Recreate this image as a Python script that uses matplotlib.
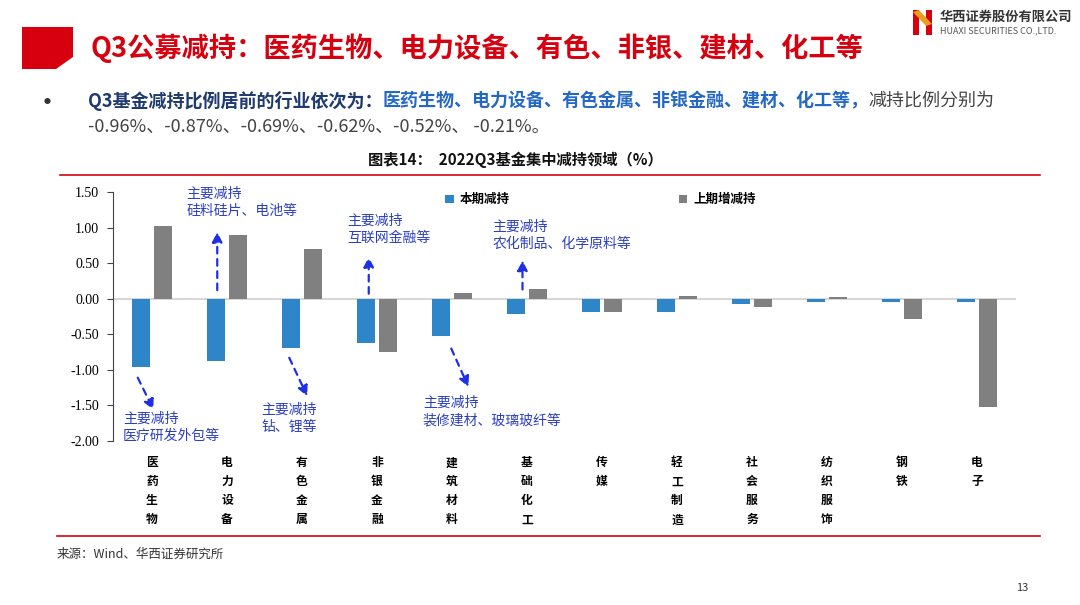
import matplotlib
matplotlib.use("Agg")
import matplotlib.pyplot as plt
from matplotlib.patches import Polygon, Rectangle
import numpy as np

# data
industries = ['医药生物', '电力设备', '有色金属', '非银金融', '建筑材料', '基础化工',
              '传媒', '轻工制造', '社会服务', '纺织服饰', '钢铁', '电子']
current_cut = [-0.96, -0.87, -0.69, -0.62, -0.52, -0.21, -0.19, -0.18, -0.07, -0.05, -0.05, -0.04]
previous_chg = [1.02, 0.89, 0.70, -0.75, 0.08, 0.13, -0.18, 0.04, -0.12, 0.03, -0.29, -1.52]
series_names = ['本期减持', '上期增减持']
y_ticks = [1.5, 1.0, 0.5, 0.0, -0.5, -1.0, -1.5, -2.0]

# callouts: (text, text x, text y, arrow start, arrow end) in data units
notes = [
    ('主要减持\n医疗研发外包等', -0.39, -1.81, (-0.19, -1.11), (0.02, -1.56)),
    ('主要减持\n硅料硅片、电池等', 0.46, 1.36, (0.87, 0.12), (0.87, 0.94)),
    ('主要减持\n钻、锂等', 1.46, -1.68, (1.83, -0.83), (2.07, -1.37)),
    ('主要减持\n互联网金融等', 2.61, 0.97, (2.89, 0.07), (2.89, 0.59)),
    ('主要减持\n装修建材、玻璃玻纤等', 3.61, -1.59, (3.99, -0.70), (4.22, -1.24)),
    ('主要减持\n农化制品、化学原料等', 4.54, 0.89, (4.94, 0.13), (4.94, 0.54)),
]

CJK = ['Noto Sans CJK SC', 'DejaVu Sans']
RED = '#d7000f'
BLUE = '#2e86c8'
GRAY = '#808080'
NOTE = '#2b3fc2'
ARROW = '#1f2fe6'

plt.rcParams['font.family'] = CJK

fig = plt.figure(figsize=(10.8, 6.05), dpi=100)

# header block and title
fig.patches.append(Polygon([[22 / 1080, 1 - 27 / 605], [73 / 1080, 1 - 27 / 605],
                            [73 / 1080, 1 - 57 / 605], [56 / 1080, 1 - 69 / 605],
                            [22 / 1080, 1 - 69 / 605]], closed=True,
                           transform=fig.transFigure, color=RED, lw=0))
fig.text(91 / 1080, 1 - 48 / 605, 'Q3公募减持：医药生物、电力设备、有色、非银、建材、化工等',
         color=RED, fontsize=19.6, fontweight='bold', va='center', ha='left')

# logo
fig.patches.append(Rectangle((913 / 1080, 1 - 35 / 605), 6 / 1080, 25 / 605,
                             transform=fig.transFigure, color=RED, lw=0))
fig.patches.append(Rectangle((926 / 1080, 1 - 35 / 605), 6 / 1080, 25 / 605,
                             transform=fig.transFigure, color=RED, lw=0))
fig.patches.append(Polygon([[913 / 1080, 1 - 12 / 605], [919 / 1080, 1 - 10 / 605],
                            [932 / 1080, 1 - 24 / 605], [926 / 1080, 1 - 26 / 605]],
                           closed=True, transform=fig.transFigure, color='#e8a020', lw=0))
fig.text(940 / 1080, 1 - 17 / 605, '华西证券股份有限公司', fontsize=9.5, fontweight='bold',
         color='#333333', va='center', ha='left')
fig.text(940 / 1080, 1 - 31 / 605, 'HUAXI SECURITIES CO.,LTD.', fontsize=6.5,
         color='#555555', va='center', ha='left')

# bullet text, chained segments
fig.text(47 / 1080, 1 - 102 / 605, '●', fontsize=5, color='#333333', va='center', ha='center')
fig.canvas.draw()
renderer = fig.canvas.get_renderer()
x_px = 88
for seg, col, wt in [('Q3基金减持比例居前的行业依次为：', '#1f3a6e', 'bold'),
                     ('医药生物、电力设备、有色金属、非银金融、建材、化工等，', '#2468c4', 'bold'),
                     ('减持比例分别为', '#444444', 'normal')]:
    t = fig.text(x_px / 1080, 1 - 101 / 605, seg, fontsize=13, color=col,
                 fontweight=wt, va='center', ha='left')
    x_px += t.get_window_extent(renderer).width
fig.text(88 / 1080, 1 - 127 / 605, '-0.96%、-0.87%、-0.69%、-0.62%、-0.52%、 -0.21%。',
         fontsize=13, color='#444444', va='center', ha='left')

# chart title and rules
fig.text(515 / 1080, 1 - 160 / 605, '图表14：  2022Q3基金集中减持领域（%）', fontsize=11,
         fontweight='bold', color='#111111', va='center', ha='center')
fig.add_artist(plt.Line2D([60 / 1080, 1040 / 1080], [1 - 175 / 605, 1 - 175 / 605],
                          color=RED, lw=1.2, transform=fig.transFigure))
fig.add_artist(plt.Line2D([57 / 1080, 1040 / 1080], [1 - 536 / 605, 1 - 536 / 605],
                          color=RED, lw=1.2, transform=fig.transFigure))
fig.text(57 / 1080, 1 - 554 / 605, '来源：Wind、华西证券研究所', fontsize=9, style='italic',
         color='#333333', va='center', ha='left')
fig.text(1022 / 1080, 1 - 588 / 605, '13', fontsize=8, color='#333333', va='center', ha='center')

# bar chart
ax = fig.add_axes([113 / 1080, 1 - 441 / 605, 903 / 1080, 249 / 605])
x = np.arange(len(industries))
w = 0.24
ax.bar(x - 0.145, current_cut, width=w, color=BLUE, label=series_names[0], zorder=3)
ax.bar(x + 0.145, previous_chg, width=w, color=GRAY, label=series_names[1], zorder=3)
ax.axhline(0, color='#d0d0d0', lw=1.2, zorder=2)

ax.set_xlim(-0.52, 11.52)
ax.set_ylim(-2.0, 1.5)
ax.set_yticks(y_ticks)
ax.set_yticklabels([f'{v:.2f}' for v in y_ticks], family=['Liberation Serif'], fontsize=10)
ax.tick_params(axis='y', direction='out', length=4, color='#444444', pad=6)
ax.set_xticks(x)
ax.set_xticklabels(['\n'.join(n) for n in industries], fontsize=8.5, fontweight='bold',
                   linespacing=1.6, va='top')
ax.tick_params(axis='x', length=0, pad=11)
for side in ['top', 'right', 'bottom']:
    ax.spines[side].set_visible(False)
ax.spines['left'].set_color('#444444')
ax.spines['left'].set_bounds(-2.0, 1.5)

for txt, tx, ty, start, end in notes:
    ax.text(tx, ty, txt, color=NOTE, fontsize=10, va='center', ha='left', linespacing=1.3,
            zorder=5)
    ax.annotate('', xy=end, xytext=start,
                arrowprops=dict(arrowstyle='-|>', linestyle=(0, (3, 2.5)), color=ARROW,
                                lw=1.6, mutation_scale=15, shrinkA=0, shrinkB=0),
                zorder=5)

leg = ax.legend(loc='upper left', bbox_to_anchor=(0.355, 1.04), ncol=2, frameon=False,
                handlelength=0.7, handleheight=0.7, handletextpad=0.5,
                columnspacing=13.5, prop={'weight': 'bold', 'size': 9, 'family': CJK})

fig.savefig('out.png', dpi=100)
